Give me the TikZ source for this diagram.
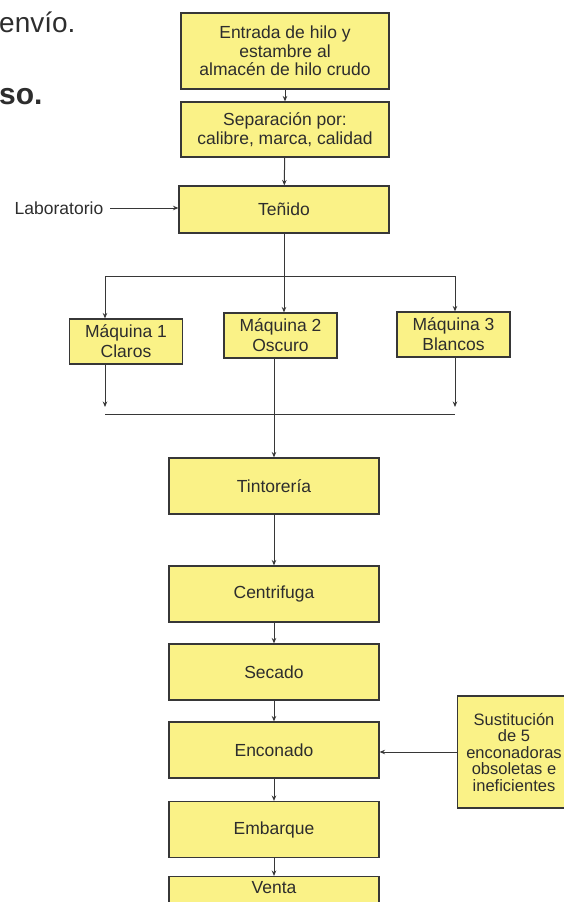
\documentclass[tikz,border=0pt]{standalone}
\usepackage{fontspec}
\setmainfont{Liberation Sans}
\usetikzlibrary{arrows.meta}
\definecolor{cajafill}{RGB}{250,242,135}
\definecolor{linea}{RGB}{55,55,55}
\definecolor{texto}{RGB}{45,45,45}

\begin{document}
\begin{tikzpicture}[x=1pt,y=-1pt,
	caja/.style={draw=linea, line width=1.1pt, fill=cajafill, align=center, inner sep=0pt, text=texto, font=\fontsize{17.5}{18.5}\selectfont},
	maq/.style={caja, minimum width=113pt, minimum height=45pt, font=\fontsize{17.5}{20}\selectfont},
	flecha/.style={draw=linea, line width=1pt, -{Stealth[length=5.5pt,width=4.5pt]}},
	trazo/.style={draw=linea, line width=1pt}]
		\useasboundingbox (0,0) rectangle (563,902);
		
		\node (envio) at (-1,22) [anchor=west, inner sep=0pt, text=texto, font=\fontsize{28}{28}\selectfont] {envío.};
		\node (so) at (-1,97) [anchor=west, inner sep=0pt, text=texto, font=\fontsize{30}{30}\selectfont\bfseries] {so.};
		
		\node (entrada) at (285,51) [caja, minimum width=208pt, minimum height=76pt] {Entrada de hilo y\\estambre al\\almacén de hilo crudo};
		\node (separacion) at (285,129.5) [caja, minimum width=208pt, minimum height=55pt] {Separación por:\\calibre, marca, calidad};
		\node (tenido) at (284,209.5) [caja, minimum width=210pt, minimum height=47pt] {Teñido};
		\node (lab) at (59,208) [inner sep=0pt, text=texto, font=\fontsize{17.5}{18.5}\selectfont] {Laboratorio};
		
		\node (maq1) at (126,341.5) [maq] {Máquina 1\\Claros};
		\node (maq2) at (280.5,335.5) [maq] {Máquina 2\\Oscuro};
		\node (maq3) at (453.5,334.5) [maq] {Máquina 3\\Blancos};
		
		\foreach \n/\y/\t in {tinto/486/Tintorería, centri/594/Centrifuga, secado/672/Secado, encon/750/Enconado, embar/829.5/Embarque} {
			\node (\n) at (274,\y) [caja, minimum width=210pt, minimum height=56pt] {\t};
		}
		\node (venta) at (274,904.5) [caja, minimum width=210pt, minimum height=56pt] {\raisebox{11pt}[0pt][0pt]{Venta}};
		
		\node (sust) at (514,752) [caja, minimum width=113pt, minimum height=112pt, font=\fontsize{16.5}{16.5}\selectfont] {Sustitución\\de 5\\enconadoras\\obsoletas e\\ineficientes};
		
		\coordinate (splitL) at (105,276);
		\coordinate (splitR) at (455,276);
		\coordinate (joinL) at (105,414);
		\coordinate (joinR) at (455,414);
		
		\draw[flecha] (entrada) -- (separacion);
		\draw[flecha] (separacion) -- (tenido);
		\draw[flecha, shorten <=7pt] (lab.east) -- (lab.east -| tenido.west);
		\draw[trazo] (tenido) -- (tenido.south |- splitL);
		\draw[trazo] (splitL) -- (splitR);
		\draw[flecha] (splitL) -- (splitL |- maq1.north);
		\draw[flecha] (tenido.south |- splitL) -- (tenido.south |- maq2.north);
		\draw[flecha] (splitR) -- (splitR |- maq3.north);
		
		\draw[flecha] (splitL |- maq1.south) -- ([yshift=7pt]joinL);
		\draw[flecha] (splitR |- maq3.south) -- ([yshift=7pt]joinR);
		\draw[trazo] (joinL) -- (joinR);
		\draw[flecha] (maq2.south -| tinto.north) -- (tinto.north);
		
		\foreach \a/\b in {tinto/centri, centri/secado, secado/encon, encon/embar, embar/venta} {
			\draw[flecha] (\a) -- (\b);
		}
		\draw[flecha] (sust.west) -- (sust.west -| encon.east);
		
	\end{tikzpicture}
\end{document}
